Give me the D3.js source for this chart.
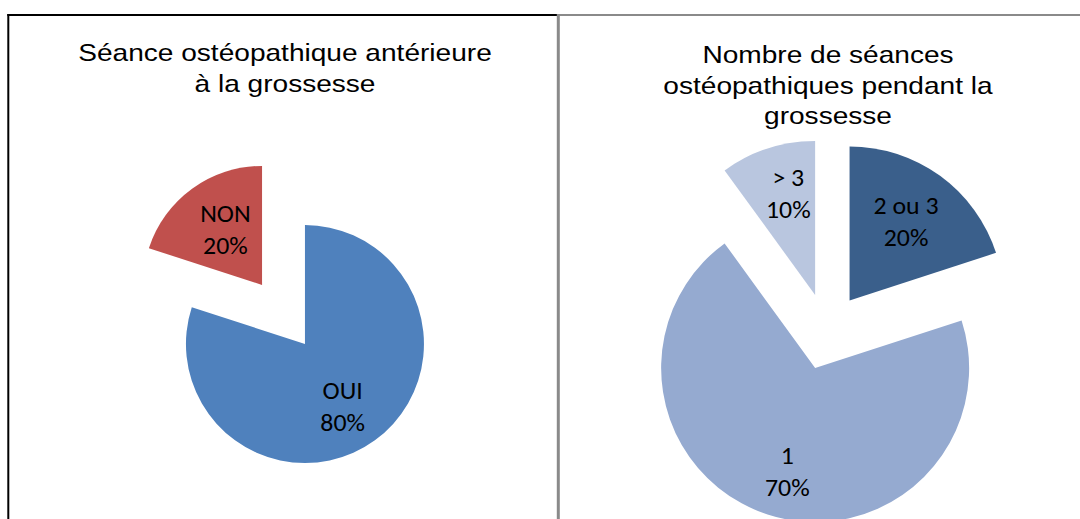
<!DOCTYPE html>
<html>
<head>
<meta charset="utf-8">
<script src="https://cdn.jsdelivr.net/npm/d3@7"></script>
<style>
  html, body { margin: 0; padding: 0; background: #fff; }
  svg { display: block; }
</style>
</head>
<body>
<svg id="chart" width="1080" height="519"></svg>
<script>
// ---- Data ----
const leftTitle = ["Séance ostéopathique antérieure", "à la grossesse"];
const leftCategories = ["OUI", "NON"];
const leftValues = [80, 20];
const leftLabels = ["80%", "20%"];

const rightTitle = ["Nombre de séances", "ostéopathiques pendant la", "grossesse"];
const rightCategories = ["2 ou 3", "1", "> 3"];
const rightValues = [20, 70, 10];
const rightLabels = ["20%", "70%", "10%"];

// ---- Styles ----
const leftColors = ["#4F81BD", "#C0504D"];
const rightColors = ["#3A5F8B", "#95AAD0", "#B9C6DF"];
// small label nudges (layout styling, px)
const leftNudge = [[-5, 3], [6, 3]];
const rightNudge = [[-6, 7], [5, 2], [6, -1]];

const svg = d3.select("#chart");
svg.append("rect").attr("width", 1080).attr("height", 519).attr("fill", "#fff");

// panel borders
svg.append("line").attr("x1", 8.3).attr("x2", 8.3).attr("y1", 14).attr("y2", 519)
  .attr("stroke", "#000").attr("stroke-width", 2);
svg.append("line").attr("x1", 7.3).attr("x2", 557).attr("y1", 15).attr("y2", 15)
  .attr("stroke", "#000").attr("stroke-width", 2);
svg.append("line").attr("x1", 557).attr("x2", 1080).attr("y1", 15).attr("y2", 15)
  .attr("stroke", "#8a8a8a").attr("stroke-width", 2);
svg.append("line").attr("x1", 558.3).attr("x2", 558.3).attr("y1", 14).attr("y2", 519)
  .attr("stroke", "#8a8a8a").attr("stroke-width", 3);

function drawTitle(lines, cx, y0, dy) {
  lines.forEach((l, i) => {
    svg.append("text")
      .attr("transform", `translate(${cx},${y0 + i * dy}) scale(1.18,1)`)
      .attr("text-anchor", "middle")
      .attr("font-family", "'Liberation Sans', Arial, sans-serif")
      .attr("font-size", 23.8)
      .attr("fill", "#000")
      .text(l);
  });
}

function drawPie(opts) {
  const { cats, vals, labs, colors, nudge, cx, cy, r, explode, labelFrac } = opts;
  const pie = d3.pie().sort(null).value(d => d.v).startAngle(0).endAngle(2 * Math.PI);
  const data = cats.map((c, i) => ({ c, v: vals[i], l: labs[i], col: colors[i], n: nudge[i] }));
  const arcs = pie(data);
  const arc = d3.arc().innerRadius(0).outerRadius(r);
  const labelArc = d3.arc().innerRadius(r * labelFrac).outerRadius(r * labelFrac);
  const g = svg.append("g").attr("transform", `translate(${cx},${cy})`);
  arcs.forEach(a => {
    const mid = (a.startAngle + a.endAngle) / 2;
    const dx = Math.sin(mid) * explode, dy = -Math.cos(mid) * explode;
    const sg = g.append("g").attr("transform", `translate(${dx},${dy})`);
    sg.append("path").attr("d", arc(a)).attr("fill", a.data.col);
    let [lx, ly] = labelArc.centroid(a);
    lx += a.data.n[0]; ly += a.data.n[1];
    [[a.data.c, ly - 7], [a.data.l, ly + 25]].forEach(([txt, y]) => {
      sg.append("text")
        .attr("transform", `translate(${lx},${y}) scale(1.1,1)`)
        .attr("text-anchor", "middle")
        .attr("font-family", "Carlito, Calibri, Lato, sans-serif")
        .attr("font-size", 23.5)
        .attr("fill", "#000")
        .text(txt);
    });
  });
}

drawTitle(leftTitle, 285, 61, 31);
drawTitle(rightTitle, 828, 63, 30.5);

drawPie({ cats: leftCategories, vals: leftValues, labs: leftLabels, colors: leftColors, nudge: leftNudge,
  cx: 283.5, cy: 314.5, r: 119, explode: 36.5, labelFrac: 0.61 });
drawPie({ cats: rightCategories, vals: rightValues, labs: rightLabels, colors: rightColors, nudge: rightNudge,
  cx: 827, cy: 331.5, r: 154, explode: 38.4, labelFrac: 0.69 });
</script>
</body>
</html>
